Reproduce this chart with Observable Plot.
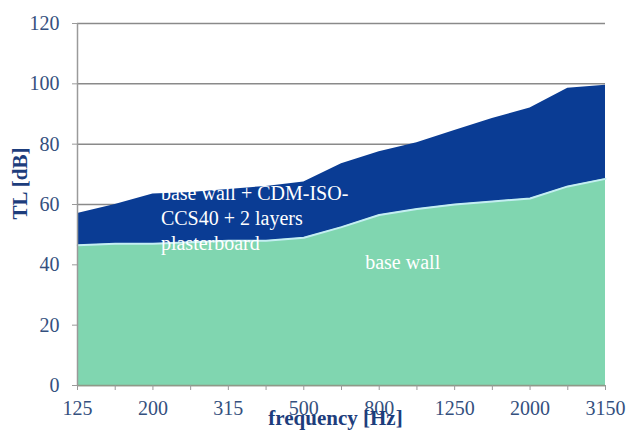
<!DOCTYPE html>
<html><head><meta charset="utf-8">
<script src="https://cdn.jsdelivr.net/npm/d3@7"></script>
<script src="https://cdn.jsdelivr.net/npm/@observablehq/plot@0.6"></script>
<style>body{margin:0;background:#fff}</style>
</head><body><div id="chart"></div>
<script>
const frequencies = ["125","160","200","250","315","400","500","630","800","1000","1250","1600","2000","2500","3150"];
const withLining = [57,60,63.5,64,65,66,67.5,73.5,77.5,80.5,84.5,88.5,92,98.5,99.5];
const baseWall = [46.5,47,47,47.5,48,48,49,52.5,56.5,58.5,60,61,62,66,68.5];
const labeledTicks = ["125","200","315","500","800","1250","2000","3150"];
const yTicks = [0,20,40,60,80,100,120];
const seriesNames = ["base wall + CDM-ISO-\nCCS40 + 2 layers\nplasterboard", "base wall"];
const axisTitles = {x: "frequency [Hz]", y: "TL [dB]"};

// frequency bands placed at equal steps (band index)
const table = frequencies.map((f, i) => ({i, f, top: withLining[i], base: baseWall[i]}));
const bandIndex = f => frequencies.indexOf(f);
const allBands = frequencies.map(bandIndex);

const chart = Plot.plot({
  width: 631, height: 434,
  marginLeft: 77, marginRight: 26, marginTop: 23, marginBottom: 49,
  style: {fontFamily: "Liberation Serif", fontSize: "20px", background: "white", color: "#34507e"},
  x: {type: "linear", domain: [0, frequencies.length - 1]},
  y: {domain: [0, 120]},
  marks: [
    Plot.gridY(yTicks, {stroke: "#8a8a8a", strokeOpacity: 1, strokeWidth: 1.5}),
    Plot.areaY(table, {x: "i", y: "top", fill: "#0a3c94"}),
    Plot.areaY(table, {x: "i", y: "base", fill: "#80d6b0"}),
    Plot.lineY(table, {x: "i", y: "base", stroke: "#c4eef2", strokeWidth: 2}),
    Plot.ruleX([0], {stroke: "#9a9a9a", strokeWidth: 1.5}),
    Plot.ruleY([0], {stroke: "#8f9a88", strokeWidth: 1.5}),
    Plot.axisY({ticks: yTicks, tickSize: 5, tickPadding: 13, stroke: "#9a9a9a", fill: "#34507e", fontSize: 20, label: null}),
    Plot.axisX({ticks: allBands, tickFormat: i => labeledTicks.includes(frequencies[i]) ? frequencies[i] : "", tickSize: 5, tickPadding: 10, stroke: "#9a9a9a", fill: "#34507e", fontSize: 20, label: null}),
    Plot.text([seriesNames[0]], {x: () => bandIndex("200"), y: () => 55.8, dx: 8, textAnchor: "start", lineAnchor: "middle", lineHeight: 1.25, fill: "white", fontSize: 20}),
    Plot.text([seriesNames[1]], {x: () => bandIndex("800"), y: () => 40.8, dx: -14, textAnchor: "start", lineAnchor: "middle", fill: "white", fontSize: 20}),
    Plot.text([axisTitles.y], {frameAnchor: "left", textAnchor: "middle", dx: -57, dy: -21, rotate: -90, fontWeight: "bold", fontSize: 21, fill: "#1d3d7c"}),
    Plot.text([axisTitles.x], {frameAnchor: "bottom", textAnchor: "middle", dx: -6, dy: 39, fontWeight: "bold", fontSize: 21, fill: "#1d3d7c"})
  ]
});
document.getElementById("chart").append(chart);
</script>
</body></html>
